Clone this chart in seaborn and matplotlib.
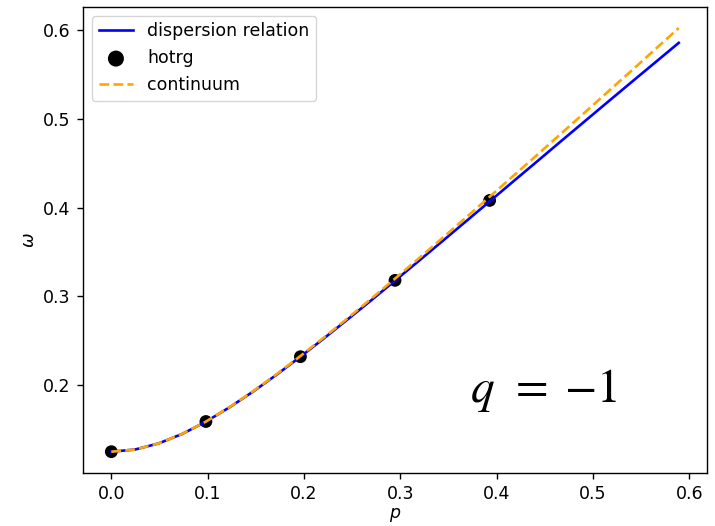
import matplotlib
matplotlib.use("Agg")
import matplotlib.pyplot as plt
import seaborn as sns
import pandas as pd

# curve samples
p_curve = [0.0000, 0.0245, 0.0491, 0.0736, 0.0982, 0.1227, 0.1473, 0.1718,
           0.1963, 0.2209, 0.2454, 0.2700, 0.2945, 0.3191, 0.3436, 0.3682,
           0.3927, 0.4172, 0.4418, 0.4663, 0.4909, 0.5154, 0.5400, 0.5645,
           0.5890]
omega_dispersion = [0.1250, 0.1274, 0.1343, 0.1450, 0.1588, 0.1750, 0.1928,
                    0.2119, 0.2320, 0.2528, 0.2741, 0.2957, 0.3177, 0.3398,
                    0.3621, 0.3845, 0.4069, 0.4294, 0.4518, 0.4743, 0.4967,
                    0.5190, 0.5413, 0.5634, 0.5855]
omega_continuum = [0.1250, 0.1274, 0.1343, 0.1451, 0.1589, 0.1752, 0.1932,
                   0.2125, 0.2328, 0.2538, 0.2754, 0.2975, 0.3200, 0.3427,
                   0.3656, 0.3888, 0.4121, 0.4356, 0.4591, 0.4828, 0.5065,
                   0.5304, 0.5542, 0.5782, 0.6022]

# hotrg points
p_hotrg = [0.0, 0.0982, 0.1963, 0.2945, 0.3927]
omega_hotrg = [0.125, 0.159, 0.232, 0.318, 0.408]

x_ticks = [0.0, 0.1, 0.2, 0.3, 0.4, 0.5, 0.6]
y_ticks = [0.2, 0.3, 0.4, 0.5, 0.6]

df_curve = pd.DataFrame({"p": p_curve, "disp": omega_dispersion, "cont": omega_continuum})
df_hotrg = pd.DataFrame({"p": p_hotrg, "omega": omega_hotrg})

plt.rcParams.update({
    "font.size": 12.5,
    "xtick.major.size": 4.4,
    "ytick.major.size": 4.4,
    "xtick.major.width": 1.0,
    "ytick.major.width": 1.0,
    "axes.linewidth": 1.0,
    "xtick.major.pad": 4.4,
    "ytick.major.pad": 4.4,
})

fig = plt.figure(figsize=(7.15, 5.26), dpi=100)
ax = fig.add_axes([0.116, 0.101, 0.873, 0.886])

sns.lineplot(data=df_curve, x="p", y="disp", ax=ax, color="blue", lw=1.9,
             label="dispersion relation")
sns.scatterplot(data=df_hotrg, x="p", y="omega", ax=ax, color="black", s=85,
                edgecolor="none", label="hotrg")
sns.lineplot(data=df_curve, x="p", y="cont", ax=ax, color="orange", lw=1.9,
             linestyle="--", label="continuum")

ax.set_xticks(x_ticks)
ax.set_yticks(y_ticks)
ax.set_xlabel(r"$p$", labelpad=2)
ax.set_ylabel(r"$\omega$")
ax.legend(loc="upper left", fontsize=12.5, markerscale=1.25)

ax.text(0.449, 0.194, r"$q\;\,=\;{-1}$", fontsize=34, ha="center", va="center",
        math_fontfamily="stix")

fig.savefig("out.png", dpi=100)
